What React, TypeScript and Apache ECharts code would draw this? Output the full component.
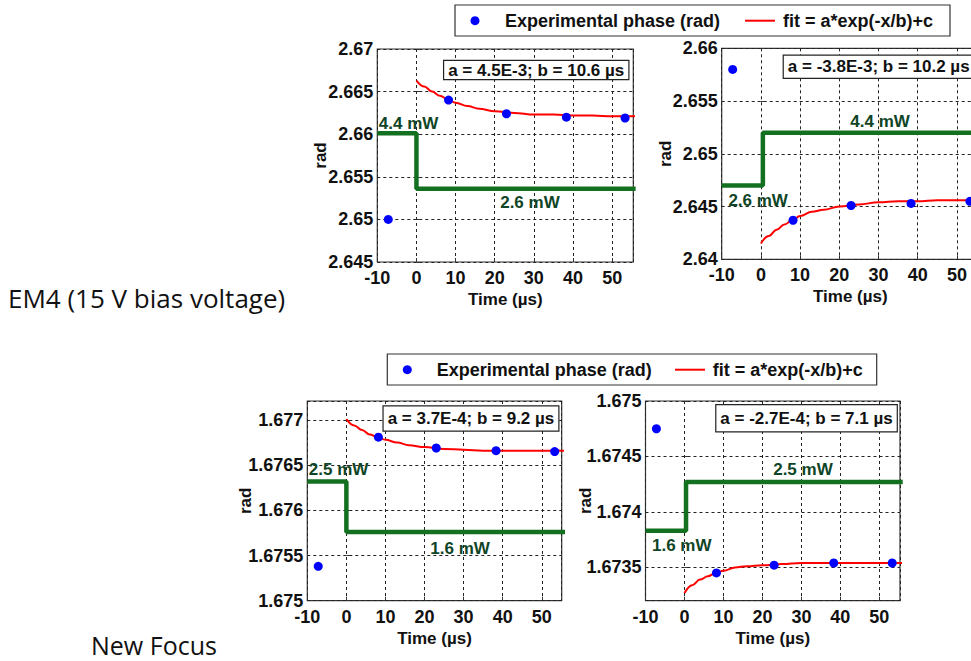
import React, { useEffect, useRef } from "react";
import * as echarts from "echarts";

// ---- shared time bases (µs) ----
const sampleTimes = [-7.2, 8.2, 23.0, 38.3, 53.3];
const fitTimes = [0, 2, 4, 6, 8, 10, 13, 16, 20, 25, 30, 35, 40, 45, 50, 56];

// ---- EM4, power step 4.4 -> 2.6 mW ----
const em4DownPhase = [2.65, 2.664, 2.6624, 2.662, 2.6619];
const em4DownFit = [2.6663, 2.6656, 2.665, 2.6645, 2.6641, 2.6637, 2.6633, 2.663, 2.6627, 2.6625, 2.6623, 2.6623, 2.6622, 2.6622, 2.6621, 2.6621];
const em4DownPowerTimes = [-10, 0, 56];
const em4DownPower = [2.6601, 2.6536, 2.6536];
const em4DownLabels: [string, number, number][] = [["4.4 mW", -2, 2.6612], ["2.6 mW", 29, 2.652]];

// ---- EM4, power step 2.6 -> 4.4 mW ----
const em4UpPhase = [2.658, 2.6437, 2.6451, 2.6453, 2.6455];
const em4UpFit = [2.6415, 2.6422, 2.6428, 2.6433, 2.6437, 2.6441, 2.6445, 2.6447, 2.645, 2.6452, 2.6454, 2.6455, 2.6455, 2.6456, 2.6456, 2.6456];
const em4UpPowerTimes = [-10, 0.5, 56];
const em4UpPower = [2.647, 2.652, 2.652];
const em4UpLabels: [string, number, number][] = [["4.4 mW", 30.4, 2.6531], ["2.6 mW", -0.7, 2.6456]];

// ---- New Focus, power step 2.5 -> 1.6 mW ----
const nfDownPhase = [1.67538, 1.67681, 1.67669, 1.67666, 1.67665];
const nfDownFit = [1.67701, 1.67694, 1.67689, 1.67684, 1.67681, 1.67678, 1.67675, 1.67672, 1.6767, 1.67668, 1.67667, 1.67666, 1.67666, 1.67666, 1.67666, 1.67666];
const nfDownPowerTimes = [-10, 0, 56];
const nfDownPower = [1.67632, 1.67576, 1.67576];
const nfDownLabels: [string, number, number][] = [["2.5 mW", -2, 1.67645], ["1.6 mW", 29.1, 1.67558]];

// ---- New Focus, power step 1.6 -> 2.5 mW ----
const nfUpPhase = [1.67475, 1.67345, 1.67352, 1.67354, 1.67354];
const nfUpFit = [1.67327, 1.67334, 1.67339, 1.67342, 1.67345, 1.67347, 1.6735, 1.67351, 1.67352, 1.67353, 1.67354, 1.67354, 1.67354, 1.67354, 1.67354, 1.67354];
const nfUpPowerTimes = [-10, 0.4, 56];
const nfUpPower = [1.67383, 1.67427, 1.67427];
const nfUpLabels: [string, number, number][] = [["2.5 mW", 30.4, 1.67438], ["1.6 mW", -0.7, 1.6737]];

// ---- axis ranges ----
const xRanges = [[-10, 55.4], [-10, 55.6], [-10, 55.1], [-10, 55.3]];
const yRanges = [[2.645, 2.67], [2.64, 2.66], [1.675, 1.67721], [1.6732, 1.675]];

const fitTexts = ["a = 4.5E-3; b = 10.6 µs", "a = -3.8E-3; b = 10.2 µs", "a = 3.7E-4; b = 9.2 µs", "a = -2.7E-4; b = 7.1 µs"];
const PHASE_NAME = "Experimental phase (rad)";
const FIT_NAME = "fit = a*exp(-x/b)+c";

const FONT = '"Liberation Sans", Arial, sans-serif';
const GREEN = "#137020";
const LABEL_GREEN = "#0f4526";
const BLUE = "#0000ff";

const gridBoxes = [
  { left: 377.3, top: 49, width: 256, height: 213 },
  { left: 721.7, top: 48.3, width: 257.2, height: 211 },
  { left: 307.3, top: 401, width: 254.4, height: 199.7 },
  { left: 645.5, top: 401, width: 254.5, height: 199.7 },
];
const radNameGaps = [48, 48, 53, 52];

const panels = [
  { phase: em4DownPhase, fit: em4DownFit, pt: em4DownPowerTimes, pw: em4DownPower, labels: em4DownLabels },
  { phase: em4UpPhase, fit: em4UpFit, pt: em4UpPowerTimes, pw: em4UpPower, labels: em4UpLabels },
  { phase: nfDownPhase, fit: nfDownFit, pt: nfDownPowerTimes, pw: nfDownPower, labels: nfDownLabels },
  { phase: nfUpPhase, fit: nfUpFit, pt: nfUpPowerTimes, pw: nfUpPower, labels: nfUpLabels },
];

const fmt = (v: number) => String(parseFloat(v.toFixed(5)));

function buildOption() {
  const grid = gridBoxes.map((g) => ({
    ...g,
    show: true,
    borderColor: "#333",
    borderWidth: 1.2,
    backgroundColor: "#fff",
    containLabel: false,
  }));
  const splitLine = { show: true, lineStyle: { color: "#222", width: 1, type: [3, 3] as any } };
  const axisLabel = { color: "#111", fontSize: 18, lineHeight: 16, fontWeight: "bold" as const, fontFamily: FONT };
  const xAxis = xRanges.map((r, i) => ({
    type: "value",
    gridIndex: i,
    min: r[0],
    max: r[1],
    interval: 10,
    axisLine: { show: false },
    axisTick: { show: true, inside: true, length: 4, lineStyle: { color: "#333" } },
    splitLine,
    axisLabel: { ...axisLabel, margin: 8, showMaxLabel: false, formatter: (v: number) => fmt(v) },
    name: "Time (µs)",
    nameLocation: "middle",
    nameGap: 29,
    nameMoveOverlap: false,
    nameTextStyle: { color: "#111", fontSize: 17, fontWeight: "bold", fontFamily: FONT, verticalAlign: "top" },
  }));
  const yAxis = yRanges.map((r, i) => {
    const base: any = {
      type: "value",
      gridIndex: i,
      min: r[0],
      max: r[1],
      axisLine: { show: false },
      axisTick: { show: true, inside: true, length: 4, lineStyle: { color: "#333" } },
      splitLine,
      axisLabel: { ...axisLabel, margin: 4, formatter: (v: number) => fmt(v) },
      name: "rad",
      nameLocation: "middle",
      nameGap: radNameGaps[i],
      nameMoveOverlap: false,
      nameTextStyle: { color: "#111", fontSize: 17, fontWeight: "bold", fontFamily: FONT },
    };
    if (i < 2) {
      base.interval = 0.005;
    } else {
      base.splitNumber = 4;
      if (i === 2) base.axisLabel.showMaxLabel = false;
      if (i === 3) base.axisLabel.showMinLabel = false;
    }
    return base;
  });

  const series: any[] = [];
  panels.forEach((p, i) => {
    series.push({
      type: "line",
      name: "power",
      xAxisIndex: i,
      yAxisIndex: i,
      step: "end",
      symbol: "none",
      lineStyle: { color: GREEN, width: 4.5 },
      data: p.pt.map((t, k) => [t, p.pw[k]]),
      z: 2,
      silent: true,
    });
    series.push({
      type: "line",
      name: FIT_NAME,
      xAxisIndex: i,
      yAxisIndex: i,
      smooth: 0.4,
      smoothMonotone: "x",
      symbol: "none",
      lineStyle: { color: "#ff0000", width: 2 },
      data: fitTimes.map((t, k) => [t, p.fit[k]]),
      z: 3,
      silent: true,
    });
    series.push({
      type: "scatter",
      name: PHASE_NAME,
      xAxisIndex: i,
      yAxisIndex: i,
      symbol: "circle",
      symbolSize: 9,
      itemStyle: { color: BLUE, opacity: 1 },
      data: sampleTimes.map((t, k) => [t, p.phase[k]]),
      z: 4,
      silent: true,
    });
    series.push({
      type: "scatter",
      name: "power labels",
      xAxisIndex: i,
      yAxisIndex: i,
      symbolSize: 0,
      itemStyle: { opacity: 1 },
      data: p.labels.map((l) => ({ name: l[0], value: [l[1], l[2]] })),
      label: {
        show: true,
        position: "inside",
        formatter: "{b}",
        color: LABEL_GREEN,
        opacity: 1,
        fontSize: 17,
        fontWeight: "bold",
        fontFamily: FONT,
      },
      z: 5,
      silent: true,
    });
  });

  const fitBoxRight = [628.3, 973.6, 558.3, 896.7];
  const fitBoxMid = [70, 66.7, 418.5, 418.3];
  const fitBoxPad = [[1, 4, 0, 4], [3, 4, 2, 4], [4, 4, 3, 4], [5, 4, 4, 4]];

  const legendBlock = (x: number, y: number, w: number, textX: number, lineX: number, fitX: number) => [
    { type: "rect", shape: { x, y, width: w, height: 31 }, style: { fill: "#fff", stroke: "#333", lineWidth: 1.2 }, z: 10 },
    { type: "circle", shape: { cx: x + 20, cy: y + 15.7, r: 4.5 }, style: { fill: BLUE }, z: 11 },
    { type: "text", x: textX, y: y + 15.7, style: { text: PHASE_NAME, font: `bold 18px ${FONT}`, fill: "#111", verticalAlign: "middle" }, z: 11 },
    { type: "line", shape: { x1: lineX, y1: y + 15.7, x2: lineX + 30, y2: y + 15.7 }, style: { stroke: "#ff0000", lineWidth: 2 }, z: 11 },
    { type: "text", x: fitX, y: y + 15.7, style: { text: FIT_NAME, font: `bold 18px ${FONT}`, fill: "#111", verticalAlign: "middle" }, z: 11 },
  ];

  const graphic: any[] = [
    ...legendBlock(455, 5, 495, 505, 745, 783),
    ...legendBlock(387.3, 354, 489.4, 436.7, 675, 712.7),
    ...fitTexts.map((t, i) => ({
      type: "text",
      x: fitBoxRight[i],
      y: fitBoxMid[i],
      z: 10,
      style: {
        text: t,
        font: `bold 17px ${FONT}`,
        fill: "#111",
        align: "right",
        verticalAlign: "middle",
        backgroundColor: "#fff",
        borderColor: "#222",
        borderWidth: 1.2,
        padding: fitBoxPad[i],
      },
    })),
    { type: "text", x: 8, y: 298, style: { text: "EM4 (15 V bias voltage)", font: '26px "Open Sans", sans-serif', fill: "#111", verticalAlign: "middle" } },
    { type: "text", x: 91, y: 645, style: { text: "New Focus", font: '25px "Open Sans", sans-serif', fill: "#111", verticalAlign: "middle" } },
  ];

  return { animation: false, backgroundColor: "#fff", grid, xAxis, yAxis, series, graphic };
}

export default function App() {
  const ref = useRef<HTMLDivElement>(null);
  useEffect(() => {
    if (!ref.current) return;
    const chart = echarts.init(ref.current, undefined, { renderer: "svg" });
    chart.setOption(buildOption() as any);
    return () => chart.dispose();
  }, []);
  return (
    <div style={{ position: "absolute", left: 0, top: 0, width: 971, height: 661, overflow: "hidden", background: "#fff" }}>
      <div ref={ref} style={{ width: 1000, height: 661 }} />
    </div>
  );
}
